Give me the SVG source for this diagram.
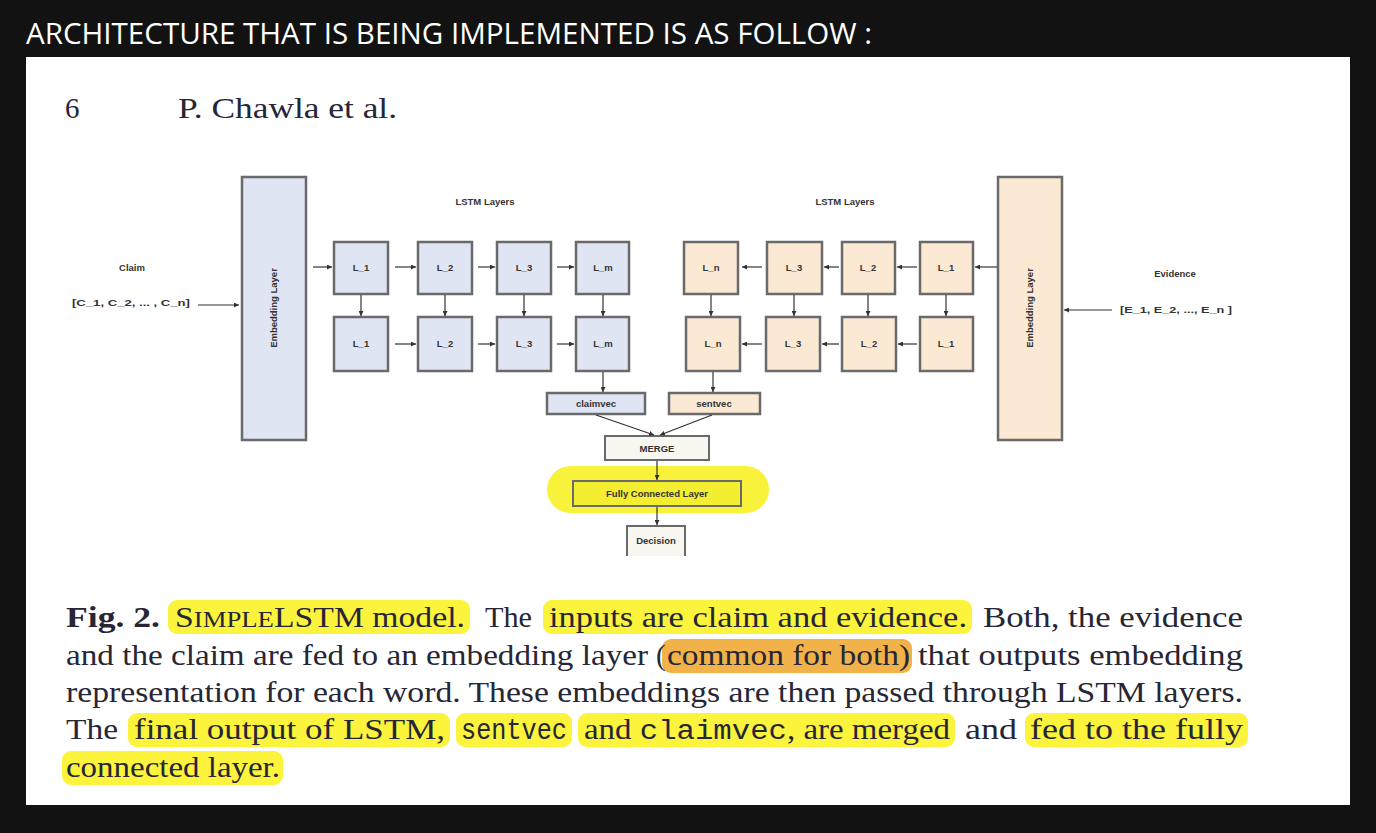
<svg xmlns="http://www.w3.org/2000/svg" width="1376" height="833" viewBox="0 0 1376 833">
<defs>
<marker id="ah" viewBox="0 0 10 10" refX="10" refY="5" markerWidth="5" markerHeight="5" orient="auto" markerUnits="userSpaceOnUse"><path d="M0,0 L10,5 L0,10 z" fill="#333"/></marker>
<style>
.bl{fill:#dfe5f3;stroke:#6a6a6a;stroke-width:2.5}
.pe{fill:#fbe9d4;stroke:#6a6a6a;stroke-width:2.5}
.lb{font-family:"Liberation Sans",Arial,sans-serif;font-size:9.5px;font-weight:bold;fill:#333;text-anchor:middle}
.ln{stroke:#333;stroke-width:1.2;fill:none;marker-end:url(#ah)}
.cap{font-family:"Liberation Serif","Times New Roman",serif;font-size:29px;fill:#262636}
.mono{font-family:"Liberation Mono","Courier New",monospace}
.hy{fill:#fbf33c}
.ho{fill:#f2b24a}
</style>
</defs>
<rect x="0" y="0" width="1376" height="833" fill="#121212"/>
<text x="26" y="44" font-family="'Open Sans',sans-serif" font-size="30" fill="#ffffff" textLength="846" lengthAdjust="spacingAndGlyphs">ARCHITECTURE THAT IS BEING IMPLEMENTED IS AS FOLLOW :</text>
<rect x="26" y="57" width="1324" height="748" fill="#ffffff"/>
<text x="65" y="118" class="cap" font-size="28">6</text>
<text x="178" y="118" class="cap" font-size="28" textLength="219" lengthAdjust="spacingAndGlyphs">P. Chawla et al.</text>

<!-- inputs -->
<g id="claim-input">
<text x="132" y="271" class="lb">Claim</text>
<text x="131" y="306" class="lb" textLength="118" lengthAdjust="spacingAndGlyphs">[C_1, C_2, ... , C_n]</text>
</g>
<g id="evidence-input">
<text x="1175" y="277" class="lb">Evidence</text>
<text x="1176" y="313" class="lb" textLength="112" lengthAdjust="spacingAndGlyphs">[E_1, E_2, ..., E_n ]</text>
</g>
<g id="lstm-label-left"><text x="485" y="205" class="lb">LSTM Layers</text></g>
<g id="lstm-label-right"><text x="845" y="205" class="lb">LSTM Layers</text></g>

<g id="embed-left">
<rect x="242" y="177" width="64" height="263" class="bl"/>
<text transform="translate(277,308) rotate(-90)" class="lb">Embedding Layer</text>
</g>
<g id="embed-right">
<rect x="998" y="177" width="64" height="263" class="pe"/>
<text transform="translate(1033,308) rotate(-90)" class="lb">Embedding Layer</text>
</g>

<!-- left LSTM -->
<g id="lt1"><rect x="334" y="242" width="54" height="52" class="bl"/><text x="361" y="271" class="lb">L_1</text></g>
<g id="lt2"><rect x="418" y="242" width="54" height="52" class="bl"/><text x="445" y="271" class="lb">L_2</text></g>
<g id="lt3"><rect x="497" y="242" width="54" height="52" class="bl"/><text x="524" y="271" class="lb">L_3</text></g>
<g id="lt4"><rect x="576" y="242" width="53" height="52" class="bl"/><text x="603" y="271" class="lb">L_m</text></g>
<g id="lb1"><rect x="334" y="317" width="54" height="54" class="bl"/><text x="361" y="347" class="lb">L_1</text></g>
<g id="lb2"><rect x="418" y="317" width="54" height="54" class="bl"/><text x="445" y="347" class="lb">L_2</text></g>
<g id="lb3"><rect x="497" y="317" width="54" height="54" class="bl"/><text x="524" y="347" class="lb">L_3</text></g>
<g id="lb4"><rect x="576" y="317" width="53" height="54" class="bl"/><text x="603" y="347" class="lb">L_m</text></g>

<!-- right LSTM -->
<g id="rt4"><rect x="684" y="242" width="54" height="52" class="pe"/><text x="711" y="271" class="lb">L_n</text></g>
<g id="rt3"><rect x="767" y="242" width="55" height="52" class="pe"/><text x="794" y="271" class="lb">L_3</text></g>
<g id="rt2"><rect x="842" y="242" width="53" height="52" class="pe"/><text x="868" y="271" class="lb">L_2</text></g>
<g id="rt1"><rect x="920" y="242" width="53" height="52" class="pe"/><text x="946" y="271" class="lb">L_1</text></g>
<g id="rb4"><rect x="686" y="317" width="54" height="54" class="pe"/><text x="713" y="347" class="lb">L_n</text></g>
<g id="rb3"><rect x="766" y="317" width="54" height="54" class="pe"/><text x="793" y="347" class="lb">L_3</text></g>
<g id="rb2"><rect x="842" y="317" width="54" height="54" class="pe"/><text x="869" y="347" class="lb">L_2</text></g>
<g id="rb1"><rect x="920" y="317" width="53" height="54" class="pe"/><text x="946" y="347" class="lb">L_1</text></g>

<!-- bottom part -->
<rect x="547" y="466" width="222" height="47" rx="23.5" fill="#f8f23a"/>
<g id="claimvec"><rect x="547" y="393" width="98" height="21" class="bl" stroke-width="2"/><text x="596" y="407" class="lb" fill="#444">claimvec</text></g>
<g id="sentvec"><rect x="669" y="393" width="91" height="21" class="pe" stroke-width="2"/><text x="714" y="407" class="lb">sentvec</text></g>
<g id="merge"><rect x="605" y="436" width="104" height="24" fill="#f8f6f1" stroke="#6a6a6a" stroke-width="2"/><text x="657" y="452" class="lb">MERGE</text></g>
<g id="fcl"><rect x="573" y="481" width="168" height="25" fill="#f4ee30" stroke="#6a6a6a" stroke-width="2"/><text x="657" y="497" class="lb">Fully Connected Layer</text></g>
<g id="decision"><path d="M627,556 V526 H685 V556" fill="#f8f6f1" stroke="#6a6a6a" stroke-width="2"/><text x="656" y="544" class="lb">Decision</text></g>

<g id="connectors">
<line x1="198" y1="305" x2="239" y2="305" class="ln"/>
<line x1="1112" y1="310" x2="1064" y2="310" class="ln"/>
<line x1="313" y1="267" x2="332" y2="267" class="ln"/>
<line x1="395" y1="267" x2="416" y2="267" class="ln"/>
<line x1="478" y1="267" x2="495" y2="267" class="ln"/>
<line x1="557" y1="267" x2="574" y2="267" class="ln"/>
<line x1="395" y1="344" x2="416" y2="344" class="ln"/>
<line x1="478" y1="344" x2="495" y2="344" class="ln"/>
<line x1="557" y1="344" x2="574" y2="344" class="ln"/>
<line x1="361" y1="295" x2="361" y2="316" class="ln"/>
<line x1="445" y1="295" x2="445" y2="316" class="ln"/>
<line x1="524" y1="295" x2="524" y2="316" class="ln"/>
<line x1="603" y1="295" x2="603" y2="316" class="ln"/>
<line x1="997" y1="267" x2="975" y2="267" class="ln"/>
<line x1="917" y1="267" x2="897" y2="267" class="ln"/>
<line x1="839" y1="267" x2="824" y2="267" class="ln"/>
<line x1="762" y1="267" x2="742" y2="267" class="ln"/>
<line x1="917" y1="344" x2="898" y2="344" class="ln"/>
<line x1="839" y1="344" x2="822" y2="344" class="ln"/>
<line x1="762" y1="344" x2="742" y2="344" class="ln"/>
<line x1="711" y1="295" x2="711" y2="316" class="ln"/>
<line x1="794" y1="295" x2="794" y2="316" class="ln"/>
<line x1="868" y1="295" x2="868" y2="316" class="ln"/>
<line x1="946" y1="295" x2="946" y2="316" class="ln"/>
<line x1="603" y1="372" x2="603" y2="392" class="ln"/>
<line x1="713" y1="372" x2="713" y2="392" class="ln"/>
<line x1="596" y1="415" x2="654" y2="435" class="ln"/>
<line x1="712" y1="415" x2="660" y2="435" class="ln"/>
<line x1="657" y1="461" x2="657" y2="480" class="ln"/>
<line x1="657" y1="507" x2="657" y2="525" class="ln"/>
</g>

<!-- caption -->
<g id="caption">
<rect x="168" y="600" width="302" height="34" rx="9" class="hy"/>
<rect x="543" y="600" width="429" height="34" rx="9" class="hy"/>
<rect x="662" y="639" width="250" height="34" rx="9" class="ho"/>
<rect x="128" y="713" width="322" height="34" rx="9" class="hy"/>
<rect x="456" y="713" width="116" height="34" rx="9" class="hy"/>
<rect x="578" y="713" width="377" height="34" rx="9" class="hy"/>
<rect x="1025" y="713" width="223" height="34" rx="9" class="hy"/>
<rect x="62" y="751" width="221" height="34" rx="9" class="hy"/>

<text x="66" y="627" class="cap" font-weight="bold" textLength="94" lengthAdjust="spacingAndGlyphs">Fig. 2.</text>
<text x="175" y="627" class="cap" textLength="290" lengthAdjust="spacingAndGlyphs">S<tspan font-size="23">IMPLE</tspan>LSTM model.</text>
<text x="485" y="627" class="cap" textLength="47" lengthAdjust="spacingAndGlyphs">The</text>
<text x="549" y="627" class="cap" textLength="418" lengthAdjust="spacingAndGlyphs">inputs are claim and evidence.</text>
<text x="983" y="627" class="cap" textLength="260" lengthAdjust="spacingAndGlyphs">Both, the evidence</text>

<text x="66" y="665" class="cap" textLength="582" lengthAdjust="spacingAndGlyphs">and the claim are fed to an embedding layer</text>
<text x="656" y="665" class="cap">(</text>
<text x="667" y="665" class="cap" textLength="243" lengthAdjust="spacingAndGlyphs">common for both)</text>
<text x="918" y="665" class="cap" textLength="325" lengthAdjust="spacingAndGlyphs">that outputs embedding</text>

<text x="66" y="702" class="cap" textLength="1177" lengthAdjust="spacingAndGlyphs">representation for each word. These embeddings are then passed through LSTM layers.</text>

<text x="66" y="739" class="cap" textLength="52" lengthAdjust="spacingAndGlyphs">The</text>
<text x="134" y="739" class="cap" textLength="311" lengthAdjust="spacingAndGlyphs">final output of LSTM,</text>
<text x="461" y="739" class="cap mono" font-size="27" textLength="106" lengthAdjust="spacingAndGlyphs">sentvec</text>
<text x="584" y="739" class="cap" textLength="366" lengthAdjust="spacingAndGlyphs">and <tspan class="mono" font-size="27">claimvec</tspan>, are merged</text>
<text x="965" y="739" class="cap" textLength="52" lengthAdjust="spacingAndGlyphs">and</text>
<text x="1030" y="739" class="cap" textLength="213" lengthAdjust="spacingAndGlyphs">fed to the fully</text>

<text x="66" y="777" class="cap" textLength="214" lengthAdjust="spacingAndGlyphs">connected layer.</text>
</g>
</svg>
